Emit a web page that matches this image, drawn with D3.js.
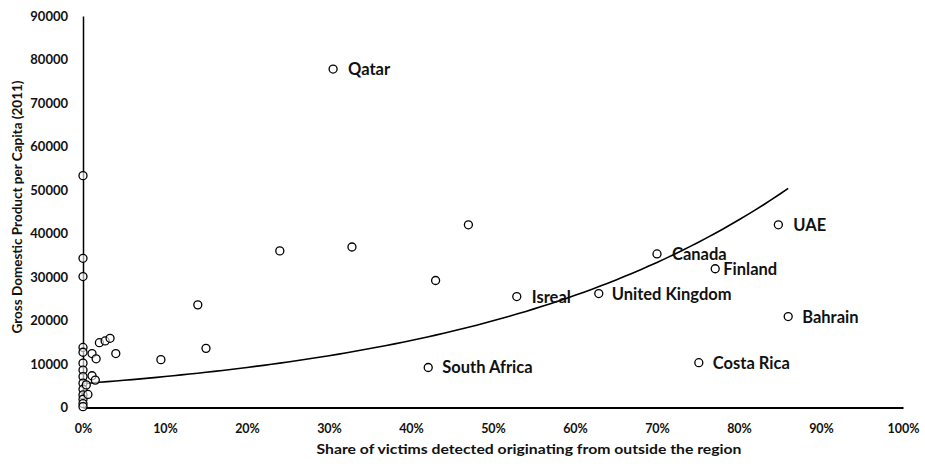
<!DOCTYPE html>
<html>
<head>
<meta charset="utf-8">
<script src="https://cdn.jsdelivr.net/npm/d3@7"></script>
<style>
  html, body { margin: 0; padding: 0; background: #fff; }
  svg { display: block; font-family: Lato, "Open Sans", sans-serif; font-weight: bold; }
</style>
</head>
<body>
<svg id="chart" width="925" height="466"></svg>
<script>
// Labelled countries: share of victims from outside the region, GDP per capita (2011)
const labelNames  = ["Qatar", "UAE", "Canada", "Finland", "United Kingdom", "Isreal", "Bahrain", "Costa Rica", "South Africa"];
const labelShares = [0.305, 0.848, 0.70, 0.771, 0.629, 0.529, 0.86, 0.751, 0.421];
const labelGdp    = [77800, 42000, 35300, 31900, 26200, 25500, 20900, 10300, 9200];
const labelDx     = [15, 15, 15, 8, 13, 15, 14, 14, 14];

// Unlabelled countries
const otherShares = [0.47, 0.328, 0.24, 0.43, 0.14, 0.15, 0.095,
  0, 0, 0, 0, 0, 0, 0, 0, 0, 0, 0, 0, 0, 0,
  0.011, 0.016, 0.02, 0.027, 0.033, 0.04, 0.011, 0.015, 0.006, 0.004];
const otherGdp    = [42000, 36900, 36000, 29200, 23600, 13600, 11000,
  53300, 34300, 30100, 13800, 12700, 10200, 8600, 7100, 5600, 4200, 2900, 1900, 900, 200,
  12400, 11200, 14900, 15300, 15900, 12400, 7300, 6300, 3000, 5200];

// Exponential trend line y = a * e^(b x)
const trendA = 5500, trendB = 2.575;
const trendX = d3.range(0, 0.8601, 0.01);

const xTicks = d3.range(0, 1.0001, 0.1);
const yTicks = d3.range(0, 90001, 10000);

const svg = d3.select("#chart");
const x = d3.scaleLinear().domain([0, 1]).range([83, 903]);
const y = d3.scaleLinear().domain([0, 90000]).range([407.5, 16]);

// Axes
const xAxis = svg.append("g").attr("transform", `translate(0,${y(0)})`)
  .call(d3.axisBottom(x).tickValues(xTicks).tickFormat(d3.format(".0%")).tickSize(0).tickPadding(17));
xAxis.select(".domain").attr("stroke", "#000").attr("stroke-width", 2);
xAxis.selectAll("text").attr("font-size", 12.5).attr("fill", "#111")
  .style("font-family", "Lato, sans-serif").style("font-weight", "bold");

const yAxis = svg.append("g").attr("transform", `translate(${x(0)},0)`)
  .call(d3.axisLeft(y).tickValues(yTicks).tickFormat(d3.format("d")).tickSize(0).tickPadding(15));
yAxis.select(".domain").attr("stroke", "#000").attr("stroke-width", 1.5);
yAxis.selectAll("text").attr("font-size", 13).attr("fill", "#111")
  .style("font-family", "Lato, sans-serif").style("font-weight", "bold");

// Axis titles
svg.append("text")
  .attr("x", 529).attr("y", 454).attr("text-anchor", "middle")
  .attr("font-size", 12.5).attr("fill", "#111")
  .attr("textLength", 425).attr("lengthAdjust", "spacingAndGlyphs")
  .text("Share of victims detected originating from outside the region");

svg.append("text")
  .attr("transform", "translate(22,207) rotate(-90)")
  .attr("text-anchor", "middle")
  .attr("font-size", 12.5).attr("fill", "#111")
  .attr("textLength", 253).attr("lengthAdjust", "spacingAndGlyphs")
  .text("Gross Domestic Product per Capita  (2011)");

// Trend line
svg.append("path")
  .datum(trendX)
  .attr("fill", "none").attr("stroke", "#000").attr("stroke-width", 1.6)
  .attr("d", d3.line().x(d => x(d)).y(d => y(trendA * Math.exp(trendB * d))));

// Markers
const points = otherShares.map((s, i) => ({ s, g: otherGdp[i] }))
  .concat(labelShares.map((s, i) => ({ s, g: labelGdp[i] })));
svg.append("g").selectAll("circle").data(points).join("circle")
  .attr("cx", d => x(d.s)).attr("cy", d => y(d.g)).attr("r", 4)
  .attr("fill", "#fff").attr("fill-opacity", 0.6).attr("stroke", "#000").attr("stroke-width", 1.3);

// Country labels
svg.append("g").selectAll("text").data(labelNames).join("text")
  .attr("x", (d, i) => x(labelShares[i]) + labelDx[i])
  .attr("y", (d, i) => y(labelGdp[i]) + 6)
  .attr("font-size", 16.5).attr("fill", "#111")
  .text(d => d);
</script>
</body>
</html>
